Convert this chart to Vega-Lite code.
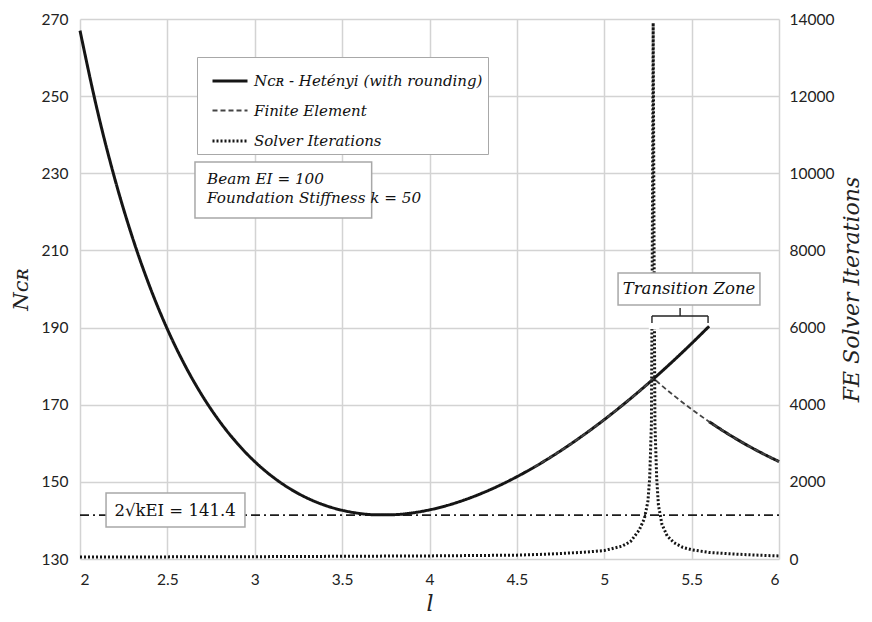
{
  "$schema": "https://vega.github.io/schema/vega-lite/v6.json",
  "width": 699,
  "height": 540,
  "autosize": {"type": "none"},
  "padding": {"left": 80, "top": 19, "right": 93, "bottom": 63},
  "background": "white",
  "config": {
    "view": {"stroke": null},
    "font": "Lato",
    "axis": {"labelColor": "#222", "labelFont": "Lato", "labelFontSize": 15.5, "domain": false, "ticks": false, "titleColor": "#222", "titleFontWeight": "normal"},
    "legend": {"orient": "none", "legendX": 117, "legendY": 38, "padding": 5, "symbolOffset": 9, "strokeColor": "#a8a8a8", "fillColor": "white", "rowPadding": 3, "symbolType": "stroke", "symbolSize": 1225, "labelFont": "DejaVu Serif", "labelFontStyle": "italic", "labelFontSize": 15, "labelColor": "#111", "labelOffset": 5, "labelLimit": 400}
  },
  "datasets": {
    "curves": [
      {"series": "H", "seg": "H1", "l": 2.0, "N": 267.0},
      {"series": "H", "seg": "H1", "l": 2.1, "N": 246.14},
      {"series": "H", "seg": "H1", "l": 2.2, "N": 228.44},
      {"series": "H", "seg": "H1", "l": 2.3, "N": 213.37},
      {"series": "H", "seg": "H1", "l": 2.4, "N": 200.53},
      {"series": "H", "seg": "H1", "l": 2.5, "N": 189.58},
      {"series": "H", "seg": "H1", "l": 2.6, "N": 180.25},
      {"series": "H", "seg": "H1", "l": 2.7, "N": 172.32},
      {"series": "H", "seg": "H1", "l": 2.8, "N": 165.61},
      {"series": "H", "seg": "H1", "l": 2.9, "N": 159.96},
      {"series": "H", "seg": "H1", "l": 3.0, "N": 155.26},
      {"series": "H", "seg": "H1", "l": 3.1, "N": 151.39},
      {"series": "H", "seg": "H1", "l": 3.2, "N": 148.26},
      {"series": "H", "seg": "H1", "l": 3.3, "N": 145.80},
      {"series": "H", "seg": "H1", "l": 3.4, "N": 143.94},
      {"series": "H", "seg": "H1", "l": 3.5, "N": 142.63},
      {"series": "H", "seg": "H1", "l": 3.6, "N": 141.81},
      {"series": "H", "seg": "H1", "l": 3.7, "N": 141.45},
      {"series": "H", "seg": "H1", "l": 3.8, "N": 141.50},
      {"series": "H", "seg": "H1", "l": 3.9, "N": 141.94},
      {"series": "H", "seg": "H1", "l": 4.0, "N": 142.74},
      {"series": "H", "seg": "H1", "l": 4.1, "N": 143.87},
      {"series": "H", "seg": "H1", "l": 4.2, "N": 145.32},
      {"series": "H", "seg": "H1", "l": 4.3, "N": 147.05},
      {"series": "H", "seg": "H1", "l": 4.4, "N": 149.06},
      {"series": "H", "seg": "H1", "l": 4.5, "N": 151.33},
      {"series": "H", "seg": "H1", "l": 4.6, "N": 153.84},
      {"series": "H", "seg": "H1", "l": 4.7, "N": 156.59},
      {"series": "H", "seg": "H1", "l": 4.8, "N": 159.56},
      {"series": "H", "seg": "H1", "l": 4.9, "N": 162.75},
      {"series": "H", "seg": "H1", "l": 5.0, "N": 166.13},
      {"series": "H", "seg": "H1", "l": 5.1, "N": 169.72},
      {"series": "H", "seg": "H1", "l": 5.2, "N": 173.49},
      {"series": "H", "seg": "H1", "l": 5.3, "N": 177.44},
      {"series": "H", "seg": "H1", "l": 5.4, "N": 181.58},
      {"series": "H", "seg": "H1", "l": 5.5, "N": 185.88},
      {"series": "H", "seg": "H1", "l": 5.6, "N": 190.34},
      {"series": "H", "seg": "H2", "l": 5.6, "N": 165.61},
      {"series": "H", "seg": "H2", "l": 5.7, "N": 162.66},
      {"series": "H", "seg": "H2", "l": 5.8, "N": 159.96},
      {"series": "H", "seg": "H2", "l": 5.9, "N": 157.50},
      {"series": "H", "seg": "H2", "l": 6.0, "N": 155.26},
      {"series": "F", "seg": "F", "l": 4.6, "N": 153.84},
      {"series": "F", "seg": "F", "l": 4.8, "N": 159.56},
      {"series": "F", "seg": "F", "l": 5.0, "N": 166.13},
      {"series": "F", "seg": "F", "l": 5.1, "N": 169.72},
      {"series": "F", "seg": "F", "l": 5.2, "N": 173.49},
      {"series": "F", "seg": "F", "l": 5.25, "N": 175.44},
      {"series": "F", "seg": "F", "l": 5.284, "N": 176.80},
      {"series": "F", "seg": "F", "l": 5.3, "N": 176.12},
      {"series": "F", "seg": "F", "l": 5.4, "N": 172.32},
      {"series": "F", "seg": "F", "l": 5.5, "N": 168.82},
      {"series": "F", "seg": "F", "l": 5.6, "N": 165.61},
      {"series": "F", "seg": "F", "l": 5.7, "N": 162.66},
      {"series": "F", "seg": "F", "l": 5.8, "N": 159.96},
      {"series": "F", "seg": "F", "l": 5.9, "N": 157.50},
      {"series": "F", "seg": "F", "l": 6.0, "N": 155.26}
    ],
    "iters": [
      {"series": "S", "l": 2.0, "it": 50},
      {"series": "S", "l": 2.5, "it": 55},
      {"series": "S", "l": 3.0, "it": 60},
      {"series": "S", "l": 3.5, "it": 70},
      {"series": "S", "l": 4.0, "it": 80},
      {"series": "S", "l": 4.5, "it": 100},
      {"series": "S", "l": 4.7, "it": 130},
      {"series": "S", "l": 4.9, "it": 180},
      {"series": "S", "l": 5.0, "it": 220},
      {"series": "S", "l": 5.1, "it": 330},
      {"series": "S", "l": 5.15, "it": 450},
      {"series": "S", "l": 5.2, "it": 750},
      {"series": "S", "l": 5.23, "it": 1050},
      {"series": "S", "l": 5.25, "it": 1500},
      {"series": "S", "l": 5.26, "it": 2100},
      {"series": "S", "l": 5.27, "it": 3500},
      {"series": "S", "l": 5.275, "it": 8000},
      {"series": "S", "l": 5.28, "it": 13900},
      {"series": "S", "l": 5.285, "it": 8000},
      {"series": "S", "l": 5.29, "it": 3500},
      {"series": "S", "l": 5.30, "it": 2100},
      {"series": "S", "l": 5.31, "it": 1400},
      {"series": "S", "l": 5.33, "it": 900},
      {"series": "S", "l": 5.36, "it": 600},
      {"series": "S", "l": 5.4, "it": 420},
      {"series": "S", "l": 5.45, "it": 300},
      {"series": "S", "l": 5.5, "it": 240},
      {"series": "S", "l": 5.6, "it": 170},
      {"series": "S", "l": 5.7, "it": 140},
      {"series": "S", "l": 5.8, "it": 115},
      {"series": "S", "l": 5.9, "it": 95},
      {"series": "S", "l": 6.0, "it": 80}
    ],
    "ref": [
      {"l": 2.0, "N": 141.4},
      {"l": 6.0, "N": 141.4}
    ]
  },
  "layer": [
    {
      "layer": [
        {
          "data": {"name": "ref"},
          "mark": {"type": "line", "color": "#1c1c1c", "strokeWidth": 1.7, "strokeDash": [9, 4, 2, 4]},
          "encoding": {
            "x": {"field": "l", "type": "quantitative", "scale": {"domain": [2, 6], "nice": false, "zero": false},
              "axis": {"values": [2, 2.5, 3, 3.5, 4, 4.5, 5, 5.5, 6], "format": "~g", "title": "l", "titleFont": "DejaVu Serif", "titleFontStyle": "italic", "titleFontSize": 22, "labelPadding": 13, "titlePadding": 6, "grid": true, "gridColor": "#d3d3d3", "gridWidth": 1.5}},
            "y": {"field": "N", "type": "quantitative", "scale": {"domain": [130, 270], "nice": false, "zero": false},
              "axis": {"orient": "left", "values": [130, 150, 170, 190, 210, 230, 250, 270], "title": "Nᴄʀ", "titleFont": "DejaVu Serif", "titleFontStyle": "italic", "titleFontSize": 21, "labelPadding": 12, "titlePadding": 10, "grid": true, "gridColor": "#d3d3d3", "gridWidth": 1.5}}
          }
        },
        {
          "data": {"name": "curves"},
          "mark": {"type": "line", "interpolate": "monotone"},
          "encoding": {
            "x": {"field": "l", "type": "quantitative"},
            "y": {"field": "N", "type": "quantitative"},
            "detail": {"field": "seg"},
            "color": {"field": "series", "type": "nominal", "title": null,
              "scale": {"domain": ["H", "F", "S"], "range": ["#151515", "#444444", "#151515"]},
              "legend": {"labelExpr": "datum.label == 'H' ? 'Nᴄʀ - Hetényi (with rounding)' : datum.label == 'F' ? 'Finite Element' : 'Solver Iterations'"}},
            "strokeDash": {"field": "series", "type": "nominal", "title": null,
              "scale": {"domain": ["H", "F", "S"], "range": [[1, 0], [5, 3], [2, 2]]}},
            "strokeWidth": {"field": "series", "type": "ordinal", "title": null,
              "scale": {"type": "ordinal", "domain": ["H", "F", "S"], "range": [3, 1.8, 3]}}
          }
        }
      ]
    },
    {
      "data": {"name": "iters"},
      "mark": {"type": "line"},
      "encoding": {
        "x": {"field": "l", "type": "quantitative"},
        "y": {"field": "it", "type": "quantitative", "scale": {"domain": [0, 14000], "nice": false},
          "axis": {"orient": "right", "values": [0, 2000, 4000, 6000, 8000, 10000, 12000, 14000], "format": "d", "title": "FE Solver Iterations", "titleFont": "DejaVu Serif", "titleFontStyle": "italic", "titleFontSize": 22, "titleAngle": 270, "labelPadding": 10, "titlePadding": 30, "grid": false}},
        "color": {"field": "series", "type": "nominal", "title": null,
          "scale": {"domain": ["H", "F", "S"], "range": ["#151515", "#444444", "#151515"]}},
        "strokeDash": {"field": "series", "type": "nominal", "title": null,
          "scale": {"domain": ["H", "F", "S"], "range": [[1, 0], [5, 3], [2, 2]]}},
        "strokeWidth": {"field": "series", "type": "ordinal", "title": null,
          "scale": {"type": "ordinal", "domain": ["H", "F", "S"], "range": [3, 1.8, 3]}}
      }
    },
    {
      "data": {"values": [{}]},
      "layer": [
        {
          "mark": {"type": "rect", "fill": "white", "stroke": "#a8a8a8", "strokeWidth": 1.5},
          "encoding": {
            "x": {"datum": 2.658, "type": "quantitative"},
            "x2": {"datum": 3.669},
            "y": {"datum": 232.93, "type": "quantitative", "scale": {"domain": [130, 270], "nice": false, "zero": false}, "axis": null},
            "y2": {"datum": 218.41}
          }
        },
        {
          "mark": {"type": "text", "text": ["Beam EI = 100", "Foundation Stiffness k = 50"], "font": "DejaVu Serif", "fontStyle": "italic", "fontSize": 15.2, "lineHeight": 19, "align": "left", "baseline": "middle", "color": "#111"},
          "encoding": {
            "x": {"datum": 2.727, "type": "quantitative"},
            "y": {"datum": 228.6, "type": "quantitative"}
          }
        },
        {
          "mark": {"type": "rect", "fill": "white", "stroke": "#a8a8a8", "strokeWidth": 1.5},
          "encoding": {
            "x": {"datum": 2.149, "type": "quantitative"},
            "x2": {"datum": 2.944},
            "y": {"datum": 147.11, "type": "quantitative"},
            "y2": {"datum": 138.3}
          }
        },
        {
          "mark": {"type": "text", "text": "2√kEI = 141.4", "font": "DejaVu Serif", "fontSize": 16.5, "align": "center", "baseline": "middle", "color": "#111"},
          "encoding": {
            "x": {"datum": 2.544, "type": "quantitative"},
            "y": {"datum": 142.5, "type": "quantitative"}
          }
        },
        {
          "mark": {"type": "rect", "fill": "white", "stroke": "none"},
          "encoding": {
            "x": {"datum": 5.255, "type": "quantitative"},
            "x2": {"datum": 5.315},
            "y": {"datum": 196.0, "type": "quantitative"},
            "y2": {"datum": 189.6}
          }
        },
        {
          "mark": {"type": "rect", "fill": "white", "stroke": "#a8a8a8", "strokeWidth": 1.5},
          "encoding": {
            "x": {"datum": 5.079, "type": "quantitative"},
            "x2": {"datum": 5.891},
            "y": {"datum": 204.15, "type": "quantitative"},
            "y2": {"datum": 195.85}
          }
        },
        {
          "mark": {"type": "text", "text": "Transition Zone", "font": "DejaVu Serif", "fontStyle": "italic", "fontSize": 16.5, "align": "center", "baseline": "middle", "color": "#111"},
          "encoding": {
            "x": {"datum": 5.485, "type": "quantitative"},
            "y": {"datum": 200.0, "type": "quantitative"}
          }
        },
        {
          "mark": {"type": "rule", "color": "#222", "strokeWidth": 1.4},
          "encoding": {
            "x": {"datum": 5.273, "type": "quantitative"},
            "x2": {"datum": 5.594},
            "y": {"datum": 193.0, "type": "quantitative"}
          }
        },
        {
          "mark": {"type": "rule", "color": "#222", "strokeWidth": 1.4},
          "encoding": {
            "x": {"datum": 5.273, "type": "quantitative"},
            "y": {"datum": 193.0, "type": "quantitative"},
            "y2": {"datum": 191.2}
          }
        },
        {
          "mark": {"type": "rule", "color": "#222", "strokeWidth": 1.4},
          "encoding": {
            "x": {"datum": 5.594, "type": "quantitative"},
            "y": {"datum": 193.0, "type": "quantitative"},
            "y2": {"datum": 191.2}
          }
        },
        {
          "mark": {"type": "rule", "color": "#222", "strokeWidth": 1.4},
          "encoding": {
            "x": {"datum": 5.434, "type": "quantitative"},
            "y": {"datum": 193.0, "type": "quantitative"},
            "y2": {"datum": 195.1}
          }
        }
      ]
    }
  ],
  "resolve": {"scale": {"y": "independent"}}
}
